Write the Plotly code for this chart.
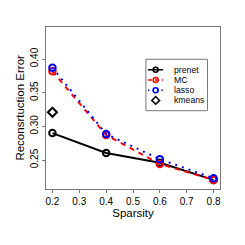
import plotly.graph_objects as go

sparsity = [0.2, 0.4, 0.6, 0.8]
prenet = [0.290, 0.2605, 0.246, 0.2205]
mc = [0.3817, 0.2872, 0.2442, 0.2205]
lasso = [0.3871, 0.2887, 0.2512, 0.2230]
kmeans_x = [0.2]
kmeans = [0.3209]
series_names = ["prenet", "MC", "lasso", "kmeans"]
x_ticks = [0.2, 0.3, 0.4, 0.5, 0.6, 0.7, 0.8]
y_ticks = [0.25, 0.30, 0.35, 0.40]

FONT = "Liberation Sans, Arial, Helvetica, sans-serif"
W = H = 245
L, R, T, B = 45.5, 25, 27, 56

styles = [
    dict(color="black", dash="solid", symbol="circle-open"),
    dict(color="red", dash="5px,5px", symbol="circle-open"),
    dict(color="blue", dash="2px,5px", symbol="circle-open"),
    dict(color="black", dash=None, symbol="diamond-open"),
]

fig = go.Figure()
for name, ys, st in zip(series_names[:3], [prenet, mc, lasso], styles[:3]):
    fig.add_trace(go.Scatter(x=sparsity, y=ys, name=name, mode="lines+markers",
                             line=dict(color=st["color"], width=2, dash=st["dash"]),
                             marker=dict(symbol=st["symbol"], size=6.5, color=st["color"],
                                         line=dict(width=2, color=st["color"])),
                             showlegend=False))
fig.add_trace(go.Scatter(x=kmeans_x, y=kmeans, name=series_names[3], mode="markers",
                         marker=dict(symbol="diamond-open", size=7, color="black",
                                     line=dict(width=2, color="black")),
                         showlegend=False))

# Manual R-style legend, drawn on an overlay axis in pixel units
leg_rows = [69.8, 80.0, 90.2, 100.4]
for i, (name, st) in enumerate(zip(series_names, styles)):
    yy = leg_rows[i]
    if st["dash"] is not None:
        fig.add_trace(go.Scatter(x=[147.7, 163.0], y=[yy, yy], mode="lines", xaxis="x2", yaxis="y2",
                                 line=dict(color=st["color"], width=1.5,
                                           dash={"solid": None, "5px,5px": "4px,3px", "2px,5px": "1.5px,3px"}[st["dash"]]),
                                 showlegend=False, hoverinfo="skip"))
    fig.add_trace(go.Scatter(x=[155.5], y=[yy], mode="markers", xaxis="x2", yaxis="y2",
                             marker=dict(symbol=st["symbol"], size=5 if st["symbol"] == "circle-open" else 6,
                                         color=st["color"], line=dict(width=1.5, color=st["color"])),
                             showlegend=False, hoverinfo="skip"))
    fig.add_annotation(x=171.5, y=yy, xref="x2", yref="y2", text=name, showarrow=False,
                       xanchor="left", yanchor="middle", font=dict(size=8.7, color="black"))
fig.add_shape(type="rect", xref="x2", yref="y2", x0=145.7, x1=207.5, y0=59.3, y1=110.7,
              line=dict(color="#777777", width=1), fillcolor="rgba(0,0,0,0)", layer="below")

# y-axis title placed like R's mtext
fig.add_annotation(x=(19 - L) / (W - L - R), y=0.5, xref="paper", yref="paper",
                   text="Reconsrtuction Error", textangle=-90, showarrow=False,
                   xanchor="center", yanchor="middle", font=dict(size=11.5, color="black"))

fig.update_layout(
    width=W, height=H,
    margin=dict(l=L, r=R, t=T, b=B, autoexpand=False),
    paper_bgcolor="white", plot_bgcolor="white",
    font=dict(family=FONT, size=10, color="black"),
    showlegend=False,
    xaxis=dict(range=[0.176, 0.824], tickvals=x_ticks,
               ticktext=[f"{v:.1f}" for v in x_ticks],
               showgrid=False, zeroline=False, showline=True, linecolor="#777777", linewidth=1,
               mirror=True, ticks="outside", ticklen=3, tickcolor="#777777",
               title=dict(text="Sparsity", font=dict(size=11.5), standoff=1),
               tickfont=dict(size=10)),
    yaxis=dict(range=[0.207, 0.4475], tickvals=y_ticks,
               ticktext=[f"{v:.2f}" for v in y_ticks], tickangle=-90,
               showgrid=False, zeroline=False, showline=True, linecolor="#777777", linewidth=1,
               mirror=True, ticks="outside", ticklen=3, tickcolor="#777777",
               tickfont=dict(size=10)),
    xaxis2=dict(overlaying="x", range=[L, W - R], visible=False, fixedrange=True),
    yaxis2=dict(overlaying="y", range=[H - B, T], visible=False, fixedrange=True),
)
fig.write_html("out.html", config={"displayModeBar": False},
               post_script="document.body.style.margin='0';document.body.style.overflow='hidden';")
